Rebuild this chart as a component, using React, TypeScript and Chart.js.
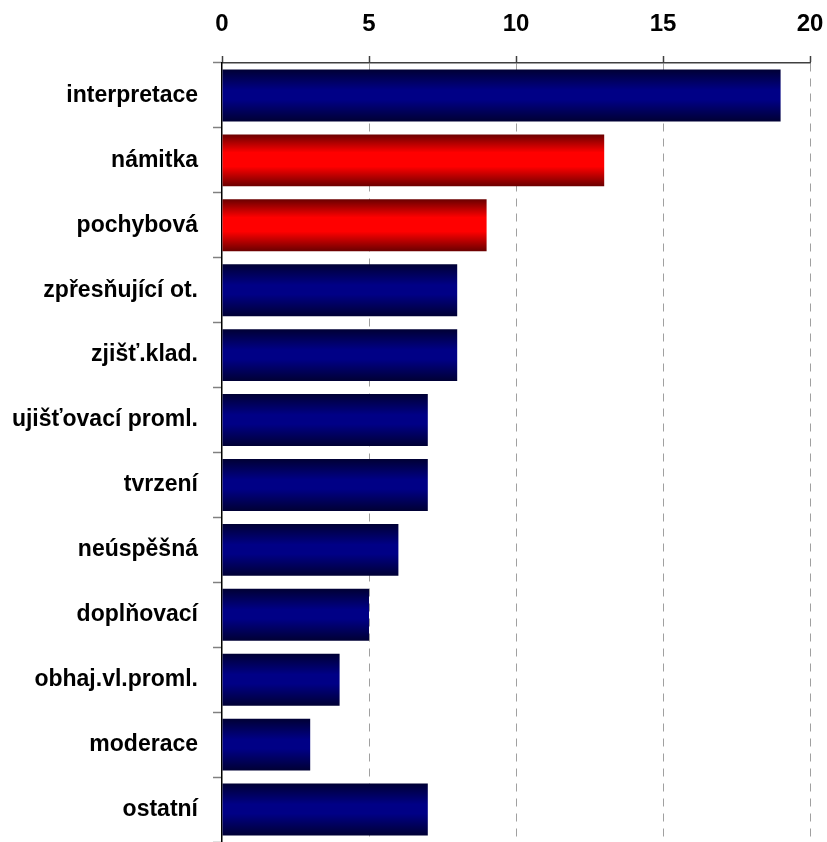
import React, { useEffect, useRef } from "react";
import { Chart, registerables } from "chart.js";

Chart.register(...registerables);

const categories = [
  "interpretace",
  "námitka",
  "pochybová",
  "zpřesňující ot.",
  "zjišť.klad.",
  "ujišťovací proml.",
  "tvrzení",
  "neúspěšná",
  "doplňovací",
  "obhaj.vl.proml.",
  "moderace",
  "ostatní",
];
const values = [19, 13, 9, 8, 8, 7, 7, 6, 5, 4, 3, 7];
const highlighted = [false, true, true, false, false, false, false, false, false, false, false, false];
const xMin = 0;
const xMax = 20;
const xStep = 5;

const FONT = "Arial, 'Liberation Sans', sans-serif";

export default function App() {
  const canvasRef = useRef<HTMLCanvasElement | null>(null);

  useEffect(() => {
    const canvas = canvasRef.current;
    if (!canvas) return;
    const BAR_PCT = 0.8;

    const chart = new Chart(canvas, {
      type: "bar",
      data: {
        labels: categories,
        datasets: [
          {
            data: values,
            barPercentage: BAR_PCT,
            categoryPercentage: 1.0,
            borderWidth: 0,
            backgroundColor: (ctx: any) => {
              const c = ctx.chart;
              const hl = highlighted[ctx.dataIndex];
              const ys = c.scales && c.scales.y;
              const area = c.chartArea;
              if (!ys || !area || ctx.dataIndex === undefined) return hl ? "#ff0000" : "#000080";
              const center = ys.getPixelForValue(ctx.dataIndex);
              const band = (area.bottom - area.top) / categories.length;
              const half = (band * BAR_PCT) / 2;
              const g = c.ctx.createLinearGradient(0, center - half, 0, center + half);
              if (hl) {
                g.addColorStop(0, "#6a0000");
                g.addColorStop(0.35, "#ff0000");
                g.addColorStop(0.62, "#ff0000");
                g.addColorStop(1, "#6a0000");
              } else {
                g.addColorStop(0, "#000034");
                g.addColorStop(0.4, "#000086");
                g.addColorStop(0.58, "#000086");
                g.addColorStop(1, "#000034");
              }
              return g;
            },
          },
        ],
      },
      options: {
        indexAxis: "y",
        responsive: false,
        animation: false,
        layout: { padding: { top: 0, left: 0, right: 17, bottom: 0 } },
        plugins: {
          legend: { display: false },
          tooltip: { enabled: false },
        },
        scales: {
          x: {
            position: "top",
            min: xMin,
            max: xMax,
            afterFit: (scale: any) => {
              scale.height = 63;
              scale.paddingLeft = 0;
              scale.paddingRight = 0;
            },
            ticks: {
              stepSize: xStep,
              color: "#000",
              font: { family: FONT, size: 24, weight: "bold" },
              padding: 17,
            },
            grid: {
              color: (ctx: any) => (ctx.tick && ctx.tick.value === 0 ? "rgba(0,0,0,0)" : "#a0a0a0"),
              lineWidth: 1,
              tickColor: "#404040",
              tickLength: 7,
              tickWidth: 1.5,
            },
            border: { color: "#404040", width: 1.5, dash: [8, 7] },
          },
          y: {
            afterFit: (scale: any) => {
              scale.width = 222;
              scale.paddingTop = 0;
              scale.paddingBottom = 0;
            },
            ticks: {
              color: "#000",
              font: { family: FONT, size: 23, weight: "bold" },
              padding: 15,
            },
            grid: {
              offset: true,
              drawOnChartArea: false,
              drawTicks: true,
              tickLength: 9,
              tickColor: "#808080",
              tickWidth: 1.5,
            },
            border: { color: "#000", width: 1.5 },
          },
        },
      },
    } as any);

    return () => {
      chart.destroy();
    };
  }, []);

  return (
    <div style={{ position: "absolute", left: 0, top: 0, width: 827, height: 842, background: "#fff" }}>
      <canvas ref={canvasRef} width={827} height={842} style={{ display: "block" }} />
    </div>
  );
}
